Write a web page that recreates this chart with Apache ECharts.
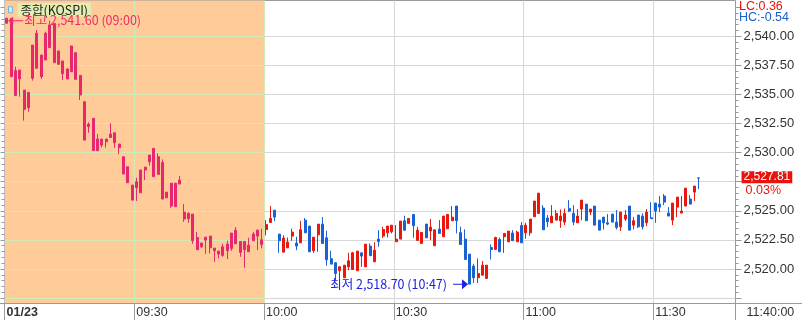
<!DOCTYPE html>
<html><head><meta charset="utf-8">
<script src="https://cdn.jsdelivr.net/npm/echarts@6/dist/echarts.min.js"></script>
<style>html,body{margin:0;padding:0;background:#fff}#c{width:802px;height:320px}</style>
</head><body><div id="c"></div>
<script>
// ---------------- data ----------------
const seriesName = '종합(KOSPI)';
const dateLabel = '01/23';
const startHour = 9, startMinute = 0;
const slotCount = 169;              // one-minute slots shown on the time axis
const shadedSlots = 60;             // 09:00 – 10:00 highlighted
const lastUpdate = '11:40:00';
const lcText = 'LC:0.36';
const hcText = 'HC:-0.54';
const changePct = '0.03%';
const yTicks = { min: 2517.5, max: 2542.5, step: 2.5 };

const opens = [2541.12,2541.54,2534.90,2537.10,2535.38,2533.86,2536.39,2540.26,2536.53,2537.96,
2539.02,2541.11,2537.59,2536.79,2536.33,2536.96,2538.59,2536.64,2534.38,2532.46,
2532.95,2531.17,2531.17,2530.94,2531.31,2531.71,2530.74,2529.65,2528.79,2527.21,
2526.99,2526.55,2528.51,2529.22,2530.37,2528.13,2529.16,2526.61,2527.38,2525.35,
2527.30,2524.89,2524.32,2524.72,2522.71,2522.23,2522.48,2522.83,2521.80,2521.54,
2521.17,2522.14,2521.77,2523.34,2522.37,2522.37,2521.48,2523.00,2522.83,2522.11,
2523.40,2524.00,2525.06,2523.00,2521.45,2521.82,2522.83,2522.23,2522.25,2524.20,
2523.69,2521.57,2522.94,2523.86,2522.68,2520.88,2520.54,2519.85,2519.25,2520.19,
2519.96,2519.85,2521.39,2520.19,2521.97,2520.62,2522.57,2522.83,2523.11,2523.20,
2522.34,2522.57,2524.15,2523.92,2524.69,2522.46,2522.20,2523.86,2523.26,2522.00,
2523.43,2522.77,2523.46,2524.15,2525.41,2523.14,2522.57,2521.28,2520.25,2519.25,
2519.47,2519.19,2521.85,2521.68,2522.54,2522.77,2522.34,2523.09,2522.34,2523.74,
2523.11,2523.11,2524.49,2524.78,2525.24,2524.38,2523.97,2524.20,2524.15,2524.03,
2525.21,2524.78,2523.97,2525.15,2525.58,2524.89,2525.41,2524.20,2524.46,2523.97,
2524.72,2524.03,2523.63,2524.29,2525.41,2523.77,2524.64,2524.55,2523.97,2524.40,
2525.67,2525.58,2526.27,2524.81,2524.20,2525.32,2524.81,2525.41,2526.01,2526.61,
2527.83];
const closes = [2541.54,2536.53,2537.05,2536.33,2533.72,2535.18,2539.25,2537.25,2538.39,2540.26,
2540.97,2537.73,2538.74,2537.88,2537.19,2539.17,2536.30,2534.95,2531.08,2532.23,
2530.17,2530.17,2530.65,2531.17,2531.60,2530.85,2530.42,2528.16,2527.41,2525.92,
2527.50,2528.51,2528.76,2529.79,2527.93,2529.65,2526.01,2526.12,2525.41,2527.38,
2527.64,2524.29,2524.78,2522.43,2521.65,2521.91,2522.74,2521.82,2521.57,2521.28,
2521.91,2521.57,2523.09,2522.17,2521.42,2521.65,2522.05,2522.43,2523.34,2522.51,
2523.83,2524.35,2524.46,2522.43,2522.66,2522.31,2523.17,2521.97,2523.37,2523.11,
2521.48,2522.74,2523.86,2522.20,2520.79,2520.42,2519.62,2520.19,2520.33,2520.71,
2521.39,2521.54,2521.11,2522.14,2521.14,2521.62,2522.37,2523.40,2523.69,2523.77,
2522.57,2524.12,2523.34,2524.35,2523.72,2523.34,2523.14,2522.68,2523.60,2523.37,
2523.06,2524.55,2524.69,2524.46,2524.15,2522.11,2520.82,2518.70,2519.25,2519.62,
2520.33,2520.33,2521.68,2522.71,2521.48,2523.06,2523.26,2522.43,2523.17,2522.25,
2523.77,2524.29,2525.84,2526.52,2523.37,2524.06,2524.55,2524.78,2524.55,2524.78,
2524.98,2524.03,2524.55,2525.92,2524.15,2525.15,2523.77,2523.34,2523.97,2523.86,
2524.03,2523.57,2524.89,2524.64,2523.34,2524.15,2523.63,2523.63,2524.89,2524.32,
2524.98,2525.32,2525.75,2524.55,2525.67,2526.18,2524.98,2526.95,2525.58,2527.13,
2527.81];
const lows = [2541.12,2536.53,2534.90,2534.81,2532.75,2533.52,2536.19,2537.25,2536.33,2537.96,
2539.02,2537.73,2537.59,2536.24,2536.33,2536.96,2536.30,2534.52,2531.08,2531.71,
2530.17,2530.17,2530.45,2530.43,2531.26,2530.43,2529.88,2528.16,2527.41,2525.92,
2525.84,2526.55,2527.64,2528.88,2527.93,2528.13,2526.01,2526.12,2525.26,2525.35,
2527.30,2524.06,2523.97,2522.17,2521.65,2521.82,2521.28,2521.34,2520.62,2520.91,
2521.05,2520.85,2521.57,2522.17,2521.05,2520.11,2521.48,2522.43,2521.62,2521.77,
2522.88,2523.97,2524.12,2521.39,2521.45,2521.82,2522.43,2521.62,2522.25,2523.11,
2521.48,2521.39,2521.48,2522.20,2520.28,2520.42,2519.04,2519.19,2519.25,2519.90,
2519.96,2519.85,2520.19,2520.19,2521.14,2520.62,2521.91,2522.66,2522.71,2523.06,
2522.34,2522.57,2523.29,2523.92,2522.68,2522.46,2522.20,2522.68,2522.48,2522.00,
2523.06,2522.77,2523.46,2524.15,2523.06,2522.11,2520.82,2518.70,2518.80,2518.80,
2519.47,2519.19,2520.82,2521.68,2521.48,2521.39,2522.34,2522.43,2522.34,2522.25,
2522.60,2522.86,2524.49,2524.78,2523.37,2523.60,2523.97,2524.20,2523.54,2523.77,
2524.89,2523.77,2523.97,2524.20,2524.15,2524.64,2523.77,2523.34,2523.40,2523.77,
2524.03,2523.40,2523.26,2524.12,2523.34,2523.40,2523.52,2523.40,2523.69,2524.32,
2523.97,2524.89,2525.49,2524.55,2523.77,2524.46,2524.81,2525.41,2525.58,2525.84,
2526.87];
const highs = [2541.60,2541.54,2537.39,2537.10,2535.38,2535.18,2539.25,2540.54,2538.39,2540.40,
2541.34,2541.11,2538.74,2537.88,2537.25,2539.17,2538.59,2536.64,2534.38,2532.60,
2532.95,2531.60,2531.17,2531.17,2532.52,2531.71,2530.74,2529.65,2528.79,2527.21,
2527.84,2528.51,2528.76,2529.79,2530.37,2529.94,2529.42,2526.61,2527.38,2527.38,
2527.99,2525.58,2524.89,2524.72,2523.17,2522.23,2522.74,2522.83,2521.80,2521.54,
2522.17,2522.43,2523.09,2523.60,2522.37,2522.37,2522.68,2523.20,2523.40,2523.46,
2524.20,2525.41,2525.06,2523.00,2522.91,2522.71,2523.46,2522.77,2524.15,2524.38,
2523.69,2522.74,2523.86,2524.46,2523.29,2521.57,2520.54,2520.19,2520.33,2521.39,
2521.48,2521.54,2521.39,2522.14,2522.20,2522.31,2523.34,2523.63,2523.69,2523.77,
2523.77,2524.12,2524.58,2524.35,2524.69,2523.63,2523.14,2523.86,2524.29,2523.37,
2524.20,2524.55,2524.69,2525.41,2525.41,2523.63,2523.40,2521.28,2520.45,2520.91,
2520.68,2520.33,2522.11,2522.77,2522.71,2523.06,2523.26,2523.34,2523.29,2524.03,
2523.97,2524.29,2525.84,2526.52,2525.49,2524.64,2525.49,2525.06,2525.12,2525.20,
2525.92,2525.49,2525.15,2525.92,2525.58,2525.15,2525.41,2524.20,2524.46,2524.72,
2524.72,2525.06,2524.89,2525.06,2525.41,2524.46,2524.64,2524.78,2525.15,2525.75,
2525.67,2526.27,2526.44,2525.32,2525.67,2526.18,2526.27,2526.95,2526.35,2527.13,
2527.83];

// ---------------- helpers ----------------
function hhmm(m) {
  const t = startHour * 60 + startMinute + m;
  return String(Math.floor(t / 60)).padStart(2, '0') + ':' + String(t % 60).padStart(2, '0');
}
const categories = [];
for (let i = 0; i < slotCount; i++) categories.push(hhmm(i));
const fmt = v => v.toLocaleString('en-US', { minimumFractionDigits: 2, maximumFractionDigits: 2 });

let hiIdx = 0, loIdx = 0;
highs.forEach((v, i) => { if (v > highs[hiIdx]) hiIdx = i; });
lows.forEach((v, i) => { if (v < lows[loIdx]) loIdx = i; });
const lastIdx = closes.length - 1;

// ---------------- layout & styles ----------------
const plotLeft = 4.55, plotWidth = 731;
const W = 802;
const UP = '#e8180f', DOWN = '#1a62d2';
const UP_S = '#e8286c', DOWN_S = '#166ab2';
const ORANGE = '#ffcc99';
const GRID_GREEN = '#d2ebb6', GRID_GRAY = '#d6d6d6', AXIS = '#9a9a9a';
const numFont = '"Liberation Sans", "DejaVu Sans", sans-serif';
const krFont = '"Noto Sans CJK KR", "Noto Sans", sans-serif';
const shadeEdge = (plotLeft + plotWidth * shadedSlots / slotCount) / W;

const candleData = opens.map((o, i) => {
  const item = { value: [o, closes[i], lows[i], highs[i]] };
  if (i < shadedSlots) item.itemStyle = { color: UP_S, color0: DOWN_S, borderColor: UP_S, borderColor0: DOWN_S };
  return item;
});

const arrowLeft = 'path://M0,4L5,0L5,3.5L15,3.5L15,4.5L5,4.5L5,8Z';
const arrowRight = 'path://M15,5L9,0L9,4.5L0,4.5L0,5.5L9,5.5L9,10Z';

const chart = echarts.init(document.getElementById('c'), null, { renderer: 'canvas' });
chart.setOption({
  animation: false,
  backgroundColor: '#fff',
  title: [
    { text: lcText, left: 739, top: 0, padding: 0, textStyle: { color: '#e8140c', fontSize: 12.5, fontWeight: 'normal', fontFamily: numFont } },
    { text: hcText, left: 739, top: 11, padding: 0, textStyle: { color: '#1a5fd0', fontSize: 12.5, fontWeight: 'normal', fontFamily: numFont } }
  ],
  legend: {
    left: 8, top: 3, padding: 0, itemWidth: 4, itemHeight: 6, selectedMode: false,
    data: [{ name: seriesName, icon: 'rect' }],
    itemStyle: { color: '#d6eef8', borderColor: '#6cb2e2', borderWidth: 1 },
    textStyle: { fontFamily: krFont, fontSize: 12.5, color: '#222', backgroundColor: '#e2edb0', padding: [1, 3, 0, 3] }
  },
  grid: [
    { left: plotLeft, top: 0.5, width: plotWidth, height: 302.5 },
    { left: plotLeft, top: 7.2, width: plotWidth, height: 290.9 },
    { left: 0, right: 0, top: 302.5, height: 0.5 }
  ],
  xAxis: [
    {
      gridIndex: 0, type: 'value', min: 0, max: slotCount, interval: 30, z: 0,
      axisLine: { show: true, lineStyle: { color: AXIS } },
      axisTick: { show: true, length: 17, lineStyle: { color: AXIS } },
      axisLabel: {
        show: true, showMinLabel: true, showMaxLabel: true, align: 'left', margin: 3,
        formatter: v => v === 0 ? '{b|' + dateLabel + '}' : (v === slotCount ? '{t|' + lastUpdate + '}' : '{n|' + hhmm(v) + '}'),
        rich: {
          b: { fontWeight: 'bold', fontSize: 12.5, color: '#333', fontFamily: numFont, padding: [0, 0, 0, 2] },
          n: { fontSize: 12.5, color: '#333', fontFamily: numFont, padding: [0, 0, 0, 2] },
          t: { fontSize: 12.5, color: '#333', fontFamily: numFont, padding: [0, 0, 0, 11] }
        }
      },
      splitLine: { show: true, lineStyle: { color: ['#bdbdbd', GRID_GREEN, GRID_GREEN, GRID_GRAY, GRID_GRAY, GRID_GRAY, AXIS] } },
      splitArea: { show: true, areaStyle: { color: [ORANGE, ORANGE, 'rgba(0,0,0,0)', 'rgba(0,0,0,0)', 'rgba(0,0,0,0)', 'rgba(0,0,0,0)'] } }
    },
    { gridIndex: 1, type: 'category', data: categories, boundaryGap: true, show: false },
    { gridIndex: 2, type: 'value', min: 0, max: 1, axisLine: { show: true, lineStyle: { color: AXIS } }, axisTick: { show: false }, axisLabel: { show: false }, splitLine: { show: false } }
  ],
  yAxis: [
    {
      gridIndex: 0, type: 'value', min: 0, max: 1, interval: 1, position: 'left', z: 0,
      axisLine: { show: true, lineStyle: { color: '#bdbdbd' } }, axisTick: { show: false }, axisLabel: { show: false },
      splitLine: { show: true, lineStyle: { color: AXIS } }
    },
    {
      gridIndex: 1, type: 'value', position: 'right', min: yTicks.min, max: yTicks.max, interval: yTicks.step, z: 1,
      axisLine: { show: true, lineStyle: { color: AXIS } },
      axisTick: { show: true, length: 6, lineStyle: { color: AXIS } },
      minorTick: { show: true, splitNumber: 5, length: 3, lineStyle: { color: AXIS } },
      axisLabel: {
        show: true, margin: 8, showMinLabel: false, showMaxLabel: false, fontSize: 13, color: '#333', fontFamily: numFont,
        formatter: v => Math.abs(v - 2527.5) < 1e-6 ? '' : fmt(v)
      },
      splitLine: {
        show: true, showMinLine: true, showMaxLine: false,
        lineStyle: { width: 1, color: { type: 'linear', x: 0, y: 0, x2: W, y2: 0, global: true,
          colorStops: [{ offset: 0, color: GRID_GREEN }, { offset: shadeEdge, color: GRID_GREEN }, { offset: shadeEdge, color: GRID_GRAY }, { offset: 1, color: GRID_GRAY }] } }
      }
    },
    {
      gridIndex: 1, type: 'value', position: 'left', min: yTicks.min, max: yTicks.max, interval: yTicks.step, z: 1,
      axisLine: { show: false },
      axisTick: { show: true, length: 4, lineStyle: { color: AXIS } },
      minorTick: { show: true, splitNumber: 5, length: 3, lineStyle: { color: AXIS } },
      axisLabel: { show: false }, splitLine: { show: false }
    },
    { gridIndex: 2, type: 'value', show: false }
  ],
  series: [{
    name: seriesName,
    type: 'candlestick',
    xAxisIndex: 1, yAxisIndex: 1,
    barWidth: 2.5,
    itemStyle: { color: UP, color0: DOWN, borderColor: UP, borderColor0: DOWN, borderWidth: 1 },
    data: candleData,
    markPoint: {
      silent: true, animation: false,
      data: [
        {
          coord: [categories[hiIdx], highs[hiIdx]], symbol: arrowLeft, symbolSize: [15, 8], symbolOffset: [9, 3],
          itemStyle: { color: '#ee2a6a' },
          label: { show: true, position: 'right', distance: 1, color: '#ee2a6a', fontSize: 12.5, fontFamily: krFont,
            formatter: '최고 ' + fmt(highs[hiIdx]) + ' (' + categories[hiIdx] + ')' }
        },
        {
          coord: [categories[loIdx], lows[loIdx]], symbol: arrowRight, symbolSize: [15, 10], symbolOffset: [-9, 0],
          itemStyle: { color: '#1c22e0' },
          label: { show: true, position: 'left', distance: 6, color: '#1c22e0', fontSize: 12.5, fontFamily: krFont,
            formatter: '최저 ' + fmt(lows[loIdx]) + ' (' + categories[loIdx] + ')' }
        }
      ]
    },
    markLine: {
      silent: true, animation: false, symbol: 'none',
      data: [{
        yAxis: closes[lastIdx], lineStyle: { color: 'rgba(0,0,0,0)', width: 1 },
        label: {
          show: true, position: 'end', distance: 6,
          formatter: '{s| }\n{a|' + fmt(closes[lastIdx]) + '}\n{b|' + changePct + '}',
          rich: {
            s: { height: 12, lineHeight: 12, fontSize: 10 },
            a: { color: '#fff', backgroundColor: '#e8140c', height: 12, lineHeight: 12, padding: [0, 2, 0, 2], fontSize: 12, fontFamily: numFont },
            b: { color: '#e8140c', lineHeight: 14, padding: [0, 0, 0, 4], fontSize: 12.5, fontFamily: numFont }
          }
        }
      }]
    }
  }]
});
</script>
</body></html>
